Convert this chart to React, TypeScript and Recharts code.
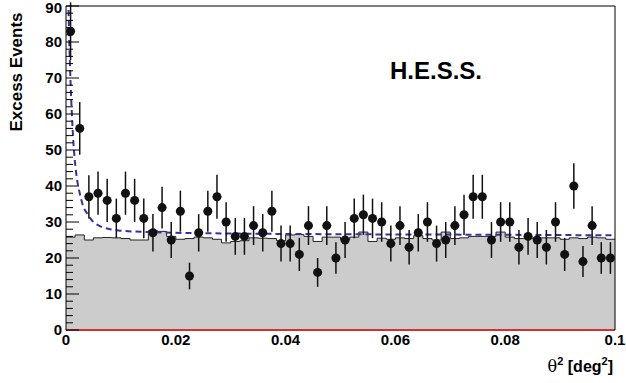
import {
  ComposedChart,
  Area,
  Line,
  Scatter,
  ErrorBar,
  XAxis,
  YAxis,
  ReferenceLine,
} from "recharts";

const BIN = 0.1 / 60;

// excess counts per theta^2 bin (ON - alpha*OFF)
const excess = [
  83, 56, 37, 38, 36, 31, 38, 36, 31, 27, 34, 25, 33, 15, 27,
  33, 37, 30, 26, 26, 29, 27, 33, 24, 24, 21, 29, 16, 29, 20,
  25, 31, 32, 31, 30, 24, 29, 23, 27, 30, 24, 25, 29, 32, 37,
  37, 25, 30, 30, 23, 26, 25, 23, 30, 21, 40, 19, 29, 20, 20,
];

const excessErr = [
  8, 7.3, 6, 6, 6, 5.5, 6, 6, 5.5, 5.2, 5.8, 5, 5.7, 3.7, 5.2,
  5.7, 6.1, 5.5, 5.1, 5.1, 5.4, 5.2, 5.7, 5, 5, 4.6, 5.4, 4, 5.4, 4.4,
  5, 5.5, 5.6, 5.5, 5.5, 5, 5.4, 4.8, 5.2, 5.5, 5, 5, 5.4, 5.6, 6.1,
  6.1, 5, 5.5, 5.5, 4.8, 5.1, 5, 4.8, 5.5, 4.6, 6.3, 4.3, 5.4, 4.4, 4.4,
];

// background (OFF) histogram
const offHist = [
  25.8, 26.4, 25.0, 25.6, 25.7, 25.6, 25.4, 25.0, 25.0, 27.6, 27.4, 26.0, 25.2, 25.4, 25.8,
  25.6, 25.2, 24.2, 24.6, 24.8, 25.6, 25.5, 25.4, 24.8, 26.4, 26.5, 26.0, 24.6, 25.8, 25.8,
  25.0, 25.8, 27.2, 24.6, 25.5, 25.2, 25.6, 25.4, 26.2, 25.4, 25.0, 27.2, 25.4, 25.6, 26.0,
  26.0, 26.0, 27.2, 25.8, 25.4, 25.4, 25.6, 25.6, 25.6, 25.2, 25.6, 25.4, 25.8, 25.6, 25.2,
];

// fitted PSF + background curve
const fitX = [0.0003, 0.0006, 0.0009, 0.0012, 0.0015, 0.002, 0.0025, 0.003, 0.004, 0.005, 0.006, 0.008, 0.01, 0.015, 0.02, 0.03, 0.05, 0.07, 0.1];
const fitY = [100, 80, 66, 56, 49, 42, 38, 35, 32, 30, 29, 28, 27.6, 27.2, 27, 26.8, 26.6, 26.5, 26.3];

const xTicks = [0, 0.02, 0.04, 0.06, 0.08, 0.1];
const yTicks = [0, 2, 4, 6, 8, 10, 12, 14, 16, 18, 20, 22, 24, 26, 28, 30, 32, 34, 36, 38, 40, 42, 44, 46, 48, 50, 52, 54, 56, 58, 60, 62, 64, 66, 68, 70, 72, 74, 76, 78, 80, 82, 84, 86, 88, 90];

const points = excess.map((v, i) => ({ x: (i + 0.5) * BIN, y: v, err: excessErr[i], xerr: BIN / 2 }));
const histData = offHist.map((v, i) => ({ x: i * BIN, off: v }));
histData.push({ x: 0.1, off: offHist[offHist.length - 1] });
const fitData = fitX.map((x, i) => ({ x, fit: fitY[i] }));

const FONT = "'Liberation Sans', Arial, Helvetica, sans-serif";

const YTick = (props: any) => {
  const { x, y, payload } = props;
  const major = payload.value % 10 === 0;
  return (
    <g>
      <line x1={x} x2={x + (major ? 13 : 7)} y1={y} y2={y} stroke="#000" />
      {major && (
        <text x={x - 4} y={Math.max(y, 8)} dy={5} textAnchor="end" fontSize={15} fontWeight="bold" fontFamily={FONT} fill="#000">
          {payload.value}
        </text>
      )}
    </g>
  );
};

const XTick = (props: any) => {
  const { x, y, payload } = props;
  return (
    <text x={x} y={y} dy={15} textAnchor="middle" fontSize={15} fontWeight="bold" fontFamily={FONT} fill="#000">
      {payload.value}
    </text>
  );
};

const Dot = (props: any) => <circle cx={props.cx} cy={props.cy} r={4.5} fill="#111" />;

export default function App() {
  return (
    <div style={{ position: "absolute", left: 0, top: 0, width: 626, height: 383, background: "#fff" }}>
      <ComposedChart width={626} height={383} margin={{ top: 6, right: 11, left: 0, bottom: 0 }}>
        <XAxis
          type="number"
          dataKey="x"
          domain={[0, 0.1]}
          ticks={xTicks}
          interval={0}
          tick={<XTick />}
          tickLine={false}
          tickSize={0}
          tickMargin={0}
          axisLine={false}
          height={53}
          allowDataOverflow
        />
        <YAxis
          type="number"
          domain={[0, 90]}
          ticks={yTicks}
          interval={0}
          tick={<YTick />}
          tickLine={false}
          tickSize={0}
          tickMargin={0}
          axisLine={{ stroke: "#000" }}
          width={66}
          allowDataOverflow
        />
        <Area
          data={histData}
          dataKey="off"
          type="stepAfter"
          fill="#cccccc"
          fillOpacity={1}
          stroke="#222"
          strokeWidth={1}
          isAnimationActive={false}
        />
        <Line
          data={fitData}
          dataKey="fit"
          type="monotone"
          stroke="#33339a"
          strokeWidth={2}
          strokeDasharray="6 4"
          dot={false}
          isAnimationActive={false}
        />
        <Scatter data={points} dataKey="y" shape={<Dot />} isAnimationActive={false}>
          <ErrorBar dataKey="err" direction="y" width={0} stroke="#111" strokeWidth={1.5} />
          <ErrorBar dataKey="xerr" direction="x" width={0} stroke="#888" strokeWidth={1} />
        </Scatter>
        <ReferenceLine y={0} stroke="#d43030" strokeWidth={2} />
        <ReferenceLine y={90} stroke="#000" strokeWidth={1} />
        <ReferenceLine x={0.1} stroke="#000" strokeWidth={1} />
      </ComposedChart>
      <svg width={626} height={383} style={{ position: "absolute", left: 0, top: 0, pointerEvents: "none" }}>
        <text transform="translate(22,72) rotate(-90)" textAnchor="middle" fontSize={17} fontWeight="bold" fontFamily={FONT} fill="#000">
          Excess Events
        </text>
        <text x={390} y={79} fontSize={24} fontWeight="bold" fontFamily={FONT} fill="#000">
          H.E.S.S.
        </text>
        <text x={613} y={372} textAnchor="end" fontSize={16} fontWeight="bold" fontFamily={FONT} fill="#000">
          <tspan fontWeight="normal" fontFamily="'DejaVu Serif', serif">θ</tspan>
          <tspan dy={-7} fontSize={11}>2</tspan>
          <tspan dy={7}> [deg</tspan>
          <tspan dy={-7} fontSize={11}>2</tspan>
          <tspan dy={7}>]</tspan>
        </text>
      </svg>
    </div>
  );
}
